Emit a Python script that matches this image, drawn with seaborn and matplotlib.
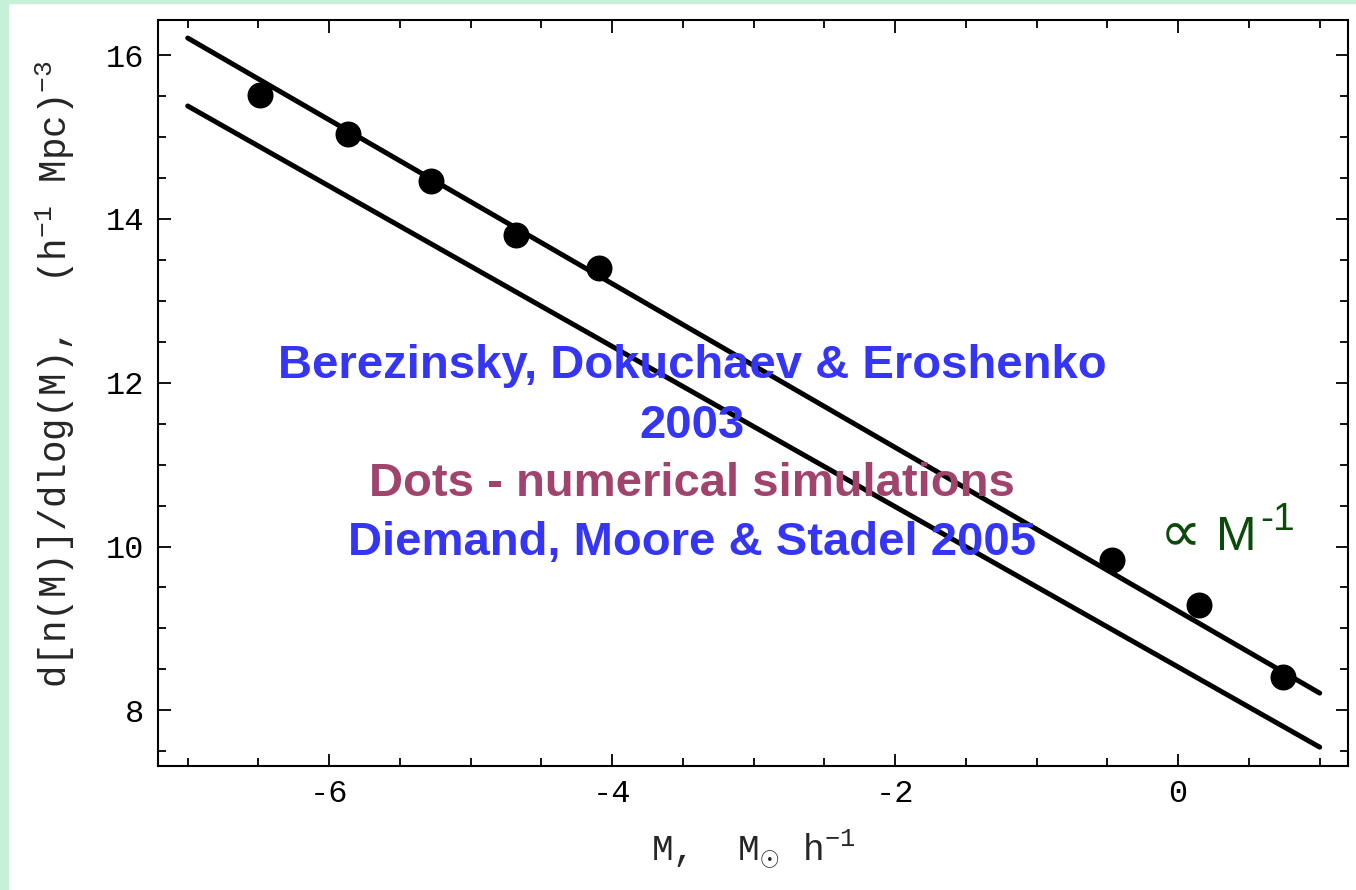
import matplotlib
matplotlib.use("Agg")
import matplotlib.pyplot as plt
import matplotlib.patches as mpatches
from matplotlib.ticker import MultipleLocator
import numpy as np
import pandas as pd
import seaborn as sns

# Subhalo mass function: simulated points and two analytic power-law lines
sim_logM = [-6.49, -5.87, -5.28, -4.68, -4.09, -0.47, 0.15, 0.74]
sim_dn = [15.51, 15.04, 14.47, 13.80, 13.40, 9.84, 9.29, 8.41]

line_logM = [-7.0, 1.0]
upper_dn = [16.21, 8.21]
lower_dn = [15.38, 7.55]

title_lines = ["Berezinsky, Dokuchaev & Eroshenko", "2003"]
dots_note = "Dots - numerical simulations"
sim_ref = "Diemand, Moore & Stadel 2005"
slope_sym = "\u221d"
slope_base = "M"
slope_exp = "-1"

sns.set_theme(style="ticks")
plt.rcParams["font.family"] = ["Liberation Mono", "DejaVu Sans"]
plt.rcParams["mathtext.fontset"] = "custom"
plt.rcParams["mathtext.rm"] = "Liberation Mono"
plt.rcParams["mathtext.it"] = "Liberation Mono"
plt.rcParams["axes.unicode_minus"] = False

fig = plt.figure(figsize=(13.56, 8.9), dpi=100, facecolor="white")
# mint frame along the left and top edges
fig.patches.append(mpatches.Rectangle((0, 0), 8 / 1356, 1, transform=fig.transFigure,
                                      color="#c6f1d6", zorder=0))
fig.patches.append(mpatches.Rectangle((0, 1 - 3 / 890), 1, 3 / 890, transform=fig.transFigure,
                                      color="#c6f1d6", zorder=0))

ax = fig.add_axes([158 / 1356, 1 - 766 / 890, (1348 - 158) / 1356, (766 - 20) / 890])
ax.set_facecolor("white")

lines = pd.DataFrame({
    "logM": line_logM * 2,
    "dn": upper_dn + lower_dn,
    "curve": ["upper"] * 2 + ["lower"] * 2,
})
sns.lineplot(data=lines, x="logM", y="dn", units="curve", estimator=None,
             color="black", linewidth=3.6, solid_capstyle="round", ax=ax)

sims = pd.DataFrame({"logM": sim_logM, "dn": sim_dn})
sns.scatterplot(data=sims, x="logM", y="dn", s=350, color="black",
                edgecolor="black", linewidth=0, ax=ax, zorder=5)

ax.set_xlim(-7.21, 1.2)
ax.set_ylim(7.32, 16.43)
ax.xaxis.set_major_locator(MultipleLocator(2))
ax.xaxis.set_minor_locator(MultipleLocator(0.5))
ax.yaxis.set_major_locator(MultipleLocator(2))
ax.yaxis.set_minor_locator(MultipleLocator(0.5))
ax.tick_params(which="both", direction="in", top=True, right=True,
               colors="black", width=1.3)
ax.tick_params(which="major", length=9, labelsize=23)
ax.tick_params(axis="x", which="major", pad=9)
ax.tick_params(axis="y", which="major", pad=10)
ax.tick_params(which="minor", length=6)
for side in ax.spines.values():
    side.set_color("black")
    side.set_linewidth(1.5)

ax.set_xlabel(r"M,  M$_{\odot}$ h$^{\mathregular{-1}}$", fontsize=26)
ax.set_ylabel(r"d[n(M)]/dlog(M),  (h$^{\mathregular{-1}}$ Mpc)$^{\mathregular{-3}}$",
              fontsize=27)
ax.xaxis.set_label_coords(0.5, -0.082)
ax.yaxis.set_label_coords(-0.068, 0.525)

blue = "#3535f5"
purple = "#a0446e"
txt = dict(transform=ax.transAxes, ha="center", va="center", fontsize=34,
           fontweight="bold", family=["Liberation Sans", "DejaVu Sans"])
ax.text(0.449, 0.536, title_lines[0], color=blue, **txt)
ax.text(0.449, 0.456, title_lines[1], color=blue, **txt)
ax.text(0.449, 0.378, dots_note, color=purple, **txt)
ax.text(0.449, 0.299, sim_ref, color=blue, **txt)

green = "#0b4a0b"
sans = ["Liberation Sans", "DejaVu Sans"]
ax.text(0.842, 0.289, slope_sym, transform=ax.transAxes, ha="left", va="baseline",
        fontsize=42, color=green, family=sans)
ax.text(0.9235, 0.2895, slope_base, transform=ax.transAxes, ha="right", va="baseline",
        fontsize=35, color=green, family=sans)
ax.text(0.926, 0.316, slope_exp, transform=ax.transAxes, ha="left", va="baseline",
        fontsize=28, color=green, family=sans)

fig.savefig("out.png", dpi=100, facecolor=fig.get_facecolor())
